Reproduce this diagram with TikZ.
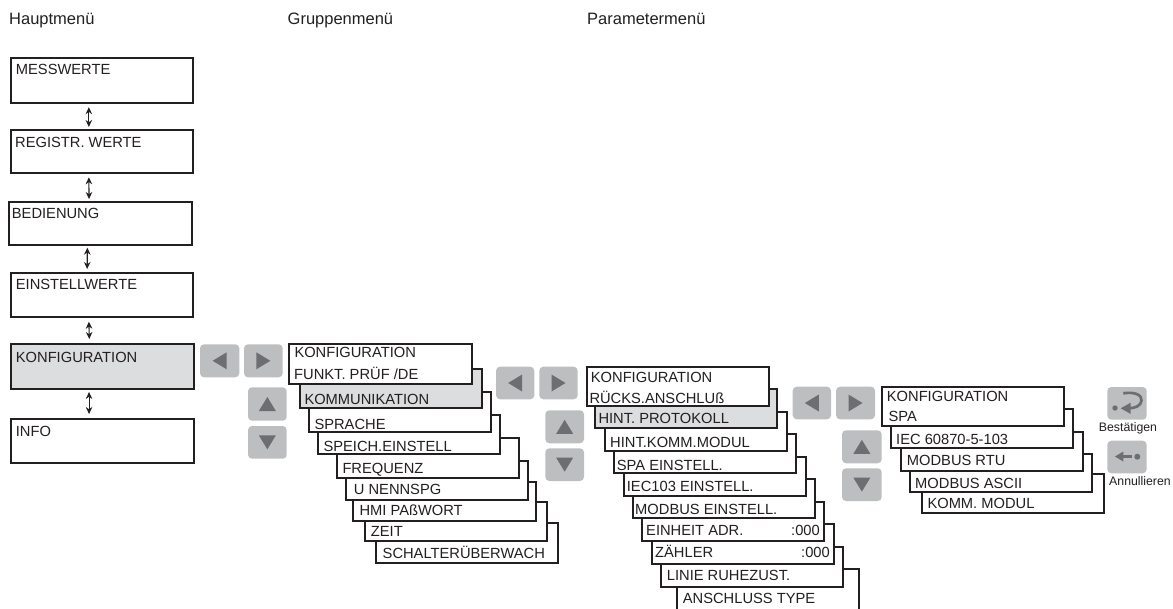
\documentclass[tikz,border=0pt]{standalone}
\usepackage{fontspec}
\setmainfont{Liberation Sans}
\usetikzlibrary{arrows.meta}
\definecolor{btnfill}{HTML}{BCBEC0}
\definecolor{btnmark}{HTML}{6D6E71}
\definecolor{selfill}{HTML}{DCDDDE}
\definecolor{inkc}{HTML}{231F20}
\tikzset{
  menubox/.style={draw=inkc,line width=2pt,fill=white,inner sep=0pt},
  selbox/.style={menubox,fill=selfill},
  menutext/.style={anchor=base west,inner sep=0pt,text=inkc,font=\fontsize{14.7}{16}\selectfont},
  headtext/.style={anchor=base west,inner sep=0pt,text=inkc,font=\fontsize{16.5}{18}\selectfont},
  smalltext/.style={anchor=base west,inner sep=0pt,text=inkc,font=\fontsize{12.3}{14}\selectfont},
  btnbox/.style={fill=btnfill,rounded corners=4pt,inner sep=0pt},
  btnsym/.style={fill=btnmark},
  biarrow/.style={draw=inkc,line width=1.1pt,{Stealth[length=7pt,width=6.5pt]}-{Stealth[length=7pt,width=6.5pt]}},
}
% #1 name, #2 x0, #3 y0, #4 x1, #5 y1, #6 style
\newcommand{\mnubox}[6]{\node[#6,minimum width={(#4-#2)*1pt},minimum height={(#5-#3)*1pt}] (#1) at ({(#2+#4)/2},{(#3+#5)/2}) {};}
% #1 name, #2 x, #3 baseline, #4 text
\newcommand{\mnutext}[4]{\node[menutext] (#1) at (#2,#3) {#4};}
\newcommand{\btnbox}[5]{\node[btnbox,minimum width={(#4-#2)*1pt},minimum height={(#5-#3)*1pt}] (#1) at ({(#2+#4)/2},{(#3+#5)/2}) {};}
\newcommand{\symleft}[1]{\fill[btnsym] ([xshift=-7pt]#1.center) -- ([xshift=7pt,yshift=8.5pt]#1.center) -- ([xshift=7pt,yshift=-8.5pt]#1.center) -- cycle;}
\newcommand{\symright}[1]{\fill[btnsym] ([xshift=7pt]#1.center) -- ([xshift=-7pt,yshift=8.5pt]#1.center) -- ([xshift=-7pt,yshift=-8.5pt]#1.center) -- cycle;}
\newcommand{\symup}[1]{\fill[btnsym] ([yshift=7pt]#1.center) -- ([xshift=8.5pt,yshift=-7pt]#1.center) -- ([xshift=-8.5pt,yshift=-7pt]#1.center) -- cycle;}
\newcommand{\symdown}[1]{\fill[btnsym] ([yshift=-7pt]#1.center) -- ([xshift=8.5pt,yshift=7pt]#1.center) -- ([xshift=-8.5pt,yshift=7pt]#1.center) -- cycle;}
\begin{document}
\begin{tikzpicture}[x=1pt,y=-1pt]
\useasboundingbox (0,0) rectangle (1173,608);
\clip (0,0) rectangle (1173,608);
% headers
\node[headtext] (h1) at (9,24) {Hauptmenü};
\node[headtext] (h2) at (287.5,24) {Gruppenmenü};
\node[headtext] (h3) at (587,24) {Parametermenü};
% main menu
\mnubox{m1}{10.7}{58.3}{193}{102.7}{menubox}
\mnubox{m2}{10.7}{130}{193}{173.3}{menubox}
\mnubox{m3}{9}{201.7}{191.7}{245}{menubox}
\mnubox{m4}{10.7}{272.7}{193}{316.7}{menubox}
\mnubox{m5}{10.7}{344.3}{194}{389.3}{selbox}
\mnubox{m6}{10.7}{419}{194}{463.3}{menubox}
\mnutext{tm1}{15.7}{74.3}{MESSWERTE}
\mnutext{tm2}{15}{147.7}{REGISTR. WERTE}
\mnutext{tm3}{11.7}{218.3}{BEDIENUNG}
\mnutext{tm4}{15.7}{289.3}{EINSTELLWERTE}
\mnutext{tm5}{15.7}{362.7}{KONFIGURATION}
\mnutext{tm6}{15.7}{436.7}{INFO}
\draw[biarrow] ([xshift=-13pt,yshift=-3.5pt]m1.south) -- ([xshift=-13pt,yshift=2pt]m2.north);
\draw[biarrow] ([xshift=-13pt,yshift=-3pt]m2.south) -- ([xshift=-11.3pt,yshift=1.7pt]m3.north);
\draw[biarrow] ([xshift=-13pt,yshift=-1.7pt]m3.south) -- ([xshift=-14.7pt,yshift=2.7pt]m4.north);
\draw[biarrow] ([xshift=-13pt,yshift=-4pt]m4.south) -- ([xshift=-13pt,yshift=4.3pt]m5.north);
\draw[biarrow] ([xshift=-13.3pt,yshift=-1.7pt]m5.south) -- ([xshift=-13.3pt,yshift=4pt]m6.north);
% buttons 1
\btnbox{b1l}{200}{344.3}{239.3}{377.3}\symleft{b1l}
\btnbox{b1r}{244}{344.3}{282.7}{377.3}\symright{b1r}
\btnbox{b1u}{248}{387.3}{286.7}{420.7}\symup{b1u}
\btnbox{b1d}{248}{426}{286.7}{458.7}\symdown{b1d}
% group stack
\mnubox{g8}{376}{523.3}{558.3}{562.7}{menubox}
\mnubox{g7}{365.3}{502.3}{547.3}{541.3}{menubox}
\mnubox{g6}{353.3}{481.7}{535.7}{520.7}{menubox}
\mnubox{g5}{346.3}{460.7}{528.3}{499.7}{menubox}
\mnubox{g4}{337}{438.3}{518.7}{477.7}{menubox}
\mnubox{g3}{318.3}{415}{500}{454.3}{menubox}
\mnubox{g2}{309}{392.3}{491}{431.7}{menubox}
\mnubox{g1}{300}{369.3}{481.7}{408.3}{selbox}
\mnubox{g0}{289.3}{344.3}{471.7}{384}{menubox}
\mnutext{tg0a}{294.3}{357.7}{KONFIGURATION}
\mnutext{tg0b}{294}{379.3}{FUNKT. PRÜF /DE}
\mnutext{tg1}{304.3}{404}{KOMMUNIKATION}
\mnutext{tg2}{314.3}{429}{SPRACHE}
\mnutext{tg3}{323.3}{451}{SPEICH.EINSTELL}
\mnutext{tg4}{342.3}{473}{FREQUENZ}
\mnutext{tg5}{353.7}{494}{U NENNSPG}
\mnutext{tg6}{359.3}{515.3}{HMI PAßWORT}
\mnutext{tg7}{370.7}{536}{ZEIT}
\mnutext{tg8}{382.5}{558}{SCHALTERÜBERWACH}
% buttons 2
\btnbox{b2l}{496}{366.7}{534.3}{399.3}\symleft{b2l}
\btnbox{b2r}{539.3}{366.7}{577.7}{399.3}\symright{b2r}
\btnbox{b2u}{545.3}{410.3}{584}{443.3}\symup{b2u}
\btnbox{b2d}{545.3}{448.3}{584}{481}\symdown{b2d}
% parameter stack
\mnubox{p9}{677.3}{569}{859}{615}{menubox}
\mnubox{p8}{661}{546.7}{843.3}{586.7}{menubox}
\mnubox{p7}{652}{524.3}{834}{563.7}{menubox}
\mnubox{p6}{642.3}{501.7}{824.3}{541}{menubox}
\mnubox{p5}{633}{479}{815}{518.3}{menubox}
\mnubox{p4}{623.7}{456.7}{805.7}{495.7}{menubox}
\mnubox{p3}{614.3}{434.3}{796}{473.3}{menubox}
\mnubox{p2}{604.7}{411.7}{786.7}{451}{menubox}
\mnubox{p1}{595.3}{389}{777.3}{428.3}{selbox}
\mnubox{p0}{586.7}{366.7}{769.3}{405.7}{menubox}
\mnutext{tp0a}{590.7}{382.7}{KONFIGURATION}
\mnutext{tp0b}{589.3}{403.3}{RÜCKS.ANSCHLUß}
\mnutext{tp1}{598.3}{423.3}{HINT. PROTOKOLL}
\mnutext{tp2}{610}{447.7}{HINT.KOMM.MODUL}
\mnutext{tp3}{616.7}{470}{SPA EINSTELL.}
\mnutext{tp4}{626.7}{491.7}{IEC103 EINSTELL.}
\mnutext{tp5}{635}{514}{MODBUS EINSTELL.}
\mnutext{tp6}{646}{535.3}{EINHEIT ADR.}
\node[menutext,anchor=base east] (tp6v) at (820,535.3) {:000};
\mnutext{tp7}{655}{557.7}{ZÄHLER}
\node[menutext,anchor=base east] (tp7v) at (830,557.7) {:000};
\mnutext{tp8}{666.7}{580.7}{LINIE RUHEZUST.}
\mnutext{tp9}{682.7}{603.3}{ANSCHLUSS TYPE}
% buttons 3
\btnbox{b3l}{792.7}{386.7}{831}{419.3}\symleft{b3l}
\btnbox{b3r}{836}{386.7}{875}{419.3}\symright{b3r}
\btnbox{b3u}{842}{430.3}{881.7}{463.3}\symup{b3u}
\btnbox{b3d}{842}{468.3}{881.7}{501}\symdown{b3d}
% settings stack
\mnubox{s4}{922.3}{473.7}{1104.3}{513}{menubox}
\mnubox{s3}{910}{454}{1091.7}{492.3}{menubox}
\mnubox{s2}{900.7}{431.7}{1082.7}{471}{menubox}
\mnubox{s1}{890.7}{409}{1072.7}{448.3}{menubox}
\mnubox{s0}{881.7}{386.7}{1064.3}{426}{menubox}
\mnutext{ts0a}{886.7}{401.7}{KONFIGURATION}
\mnutext{ts0b}{888.3}{421}{SPA}
\mnutext{ts1}{896}{444}{IEC 60870-5-103}
\mnutext{ts2}{906.7}{465.7}{MODBUS RTU}
\mnutext{ts3}{915}{488.3}{MODBUS ASCII}
\mnutext{ts4}{927.3}{508.3}{KOMM. MODUL}
% confirm / cancel
\btnbox{bok}{1107.3}{387}{1146.7}{419.7}
\btnbox{bno}{1107.3}{440.7}{1146.7}{473.3}
\fill[btnsym] (1115,408) circle (2.7);
\draw[btnmark,line width=2.7pt] (1123.3,393.3) .. controls (1135,391.5) and (1142,395) .. (1141.5,400.5) .. controls (1141,406) and (1135,408.3) .. (1128,408.3);
\fill[btnsym] (1120.7,408.3) -- (1130.7,402.7) -- (1130.7,414) -- cycle;
\fill[btnsym] (1115,456.5) -- (1123.3,451.5) -- (1123.3,461.5) -- cycle;
\draw[btnmark,line width=2.8pt] (1120,456.5) -- (1131.7,456.5);
\fill[btnsym] (1137.3,456.7) circle (3);
\node[smalltext] (tok) at (1098.7,431) {Bestätigen};
\node[smalltext] (tno) at (1109,485.5) {Annullieren};
\end{tikzpicture}
\end{document}
